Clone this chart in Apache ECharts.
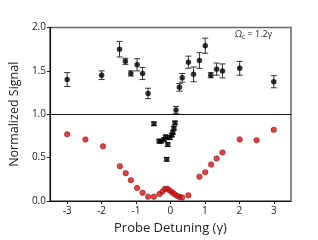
<!DOCTYPE html>
<html><head><meta charset="utf-8">
<script src="https://cdn.jsdelivr.net/npm/echarts@6/dist/echarts.min.js"></script>
<style>html,body{margin:0;padding:0;background:#fff}#c{width:318px;height:240px}</style>
</head><body><div id="c"></div>
<script>
// Upper data: [detuning, signal, error]
const upperX   = [-3, -2, -1.48, -1.31, -1.15, -0.97, -0.81, -0.65, 0.16, 0.26, 0.34, 0.52, 0.67, 0.84, 1.01, 1.17, 1.34, 1.51, 2.01, 3.0];
const upperY   = [1.40, 1.45, 1.75, 1.61, 1.47, 1.57, 1.47, 1.24, 1.05, 1.31, 1.42, 1.60, 1.46, 1.62, 1.79, 1.45, 1.52, 1.50, 1.53, 1.375];
const upperErr = [0.08, 0.05, 0.09, 0.035, 0.03, 0.07, 0.07, 0.06, 0.04, 0.045, 0.05, 0.07, 0.085, 0.09, 0.087, 0.03, 0.07, 0.08, 0.08, 0.07];
// Lower black squares
const sqX   = [-0.48, 0.13, 0.10, 0.07, 0.04, -0.02, -0.14, -0.18, -0.27, -0.33, -0.08, -0.11];
const sqY   = [0.89, 0.90, 0.84, 0.79, 0.76, 0.73, 0.74, 0.71, 0.69, 0.69, 0.65, 0.48];
const sqErr = [0.02, 0.02, 0.02, 0.02, 0.02, 0.02, 0.02, 0.02, 0.02, 0.02, 0.02, 0.02];
// Lower red circles
const redX = [-3, -2.47, -1.96, -1.47, -1.30, -1.15, -0.97, -0.81, -0.65, -0.48, -0.32, -0.23, -0.16, -0.09, -0.02, 0.05, 0.11, 0.19, 0.27, 0.34, 0.52, 0.84, 1.01, 1.18, 1.34, 1.51, 2.01, 2.5, 3.0];
const redY = [0.77, 0.71, 0.63, 0.40, 0.32, 0.24, 0.15, 0.095, 0.05, 0.05, 0.08, 0.11, 0.14, 0.14, 0.12, 0.10, 0.08, 0.06, 0.045, 0.04, 0.065, 0.28, 0.33, 0.42, 0.49, 0.56, 0.71, 0.70, 0.82];
const xTicks = [-3, -2, -1, 0, 1, 2, 3];

const FONT = '"Open Sans", "DejaVu Sans", sans-serif';
function pts(xs, ys) { return xs.map((x, i) => [x, ys[i]]); }
function errs(xs, ys, es) { return xs.map((x, i) => [x, ys[i], es[i]]); }
function errRender(params, api) {
  const x = api.value(0), y = api.value(1), e = api.value(2);
  const lo = api.coord([x, y - e]), hi = api.coord([x, y + e]);
  const w = 3;
  const st = { stroke: '#333', lineWidth: 1 };
  return { type: 'group', children: [
    { type: 'line', shape: { x1: lo[0], y1: lo[1], x2: hi[0], y2: hi[1] }, style: st },
    { type: 'line', shape: { x1: lo[0] - w, y1: lo[1], x2: lo[0] + w, y2: lo[1] }, style: st },
    { type: 'line', shape: { x1: hi[0] - w, y1: hi[1], x2: hi[0] + w, y2: hi[1] }, style: st }
  ]};
}
const chart = echarts.init(document.getElementById('c'), null, { renderer: 'canvas' });
chart.setOption({
  animation: false,
  textStyle: { fontFamily: FONT },
  grid: { left: 40, right: 27, top: 27.5, bottom: 36, show: true, borderColor: '#666', borderWidth: 1.5, backgroundColor: 'transparent' },
  xAxis: {
    type: 'value', min: -3.5, max: 3.5,
    name: 'Probe Detuning (γ)', nameLocation: 'middle', nameGap: 21,
    nameTextStyle: { fontSize: 13, color: '#222', fontFamily: FONT },
    axisLine: { show: true, onZero: false, lineStyle: { color: '#111', width: 1.2 } },
    axisTick: { show: true, customValues: xTicks, length: 3, lineStyle: { color: '#111' } },
    axisLabel: { customValues: xTicks, fontSize: 10, color: '#222', margin: 5, fontFamily: FONT },
    splitLine: { show: false }
  },
  yAxis: {
    type: 'value', min: 0, max: 2, interval: 0.5,
    name: 'Normalized Signal', nameLocation: 'middle', nameGap: 24,
    nameTextStyle: { fontSize: 12.5, color: '#222', fontFamily: FONT },
    axisLine: { show: true, onZero: false, lineStyle: { color: '#111', width: 1.2 } },
    axisTick: { show: true, length: 3, lineStyle: { color: '#111' } },
    axisLabel: { fontSize: 10, color: '#222', margin: 4, formatter: v => v.toFixed(1), fontFamily: FONT },
    splitLine: { show: false }
  },
  graphic: [{
    type: 'text', left: 235, top: 30,
    style: {
      text: '{a|Ω}{s|c}{a| = 1.2γ}',
      rich: {
        a: { fontSize: 9, fill: '#222', fontFamily: FONT },
        s: { fontSize: 6.5, fill: '#222', fontFamily: FONT, padding: [5, 0, 0, 0] }
      }
    }
  }],
  series: [
    { type: 'line', data: [], markLine: { silent: true, symbol: 'none', label: { show: false },
        lineStyle: { color: '#111', width: 1.2, type: 'solid' }, data: [{ yAxis: 1 }] } },
    { type: 'custom', renderItem: errRender, data: errs(upperX, upperY, upperErr), z: 2 },
    { type: 'custom', renderItem: errRender, data: errs(sqX, sqY, sqErr), z: 2 },
    { type: 'scatter', data: pts(upperX, upperY), symbol: 'circle', symbolSize: 5.5, itemStyle: { color: '#000' }, z: 3 },
    { type: 'scatter', data: pts(sqX, sqY), symbol: 'rect', symbolSize: 5, itemStyle: { color: '#000' }, z: 3 },
    { type: 'scatter', data: pts(redX, redY), symbol: 'circle', symbolSize: 5.5, itemStyle: { color: '#e0100f', borderColor: '#5a1010', borderWidth: 0.6 }, z: 4 }
  ]
});
</script></body></html>
